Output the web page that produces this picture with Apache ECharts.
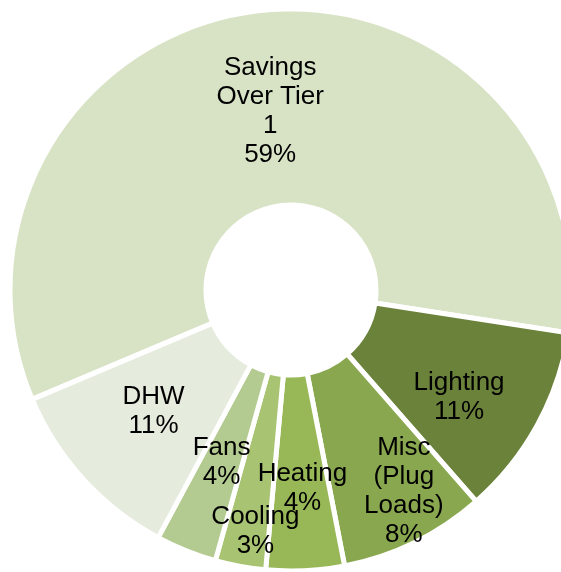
<!DOCTYPE html>
<html><head><meta charset="utf-8">
<script src="https://cdn.jsdelivr.net/npm/echarts@6/dist/echarts.min.js"></script>
<style>html,body{margin:0;padding:0;background:#fff}#c{width:561px;height:572px}</style>
</head><body><div id="c"></div>
<script>
const categories = ['Savings\nOver Tier\n1', 'Lighting', 'Misc\n(Plug\nLoads)', 'Heating', 'Cooling', 'Fans', 'DHW'];
const values = [58.8, 11.1, 8.4, 4.49, 2.9, 3.5, 10.8];
const colors = ['#D8E3C6', '#6B823B', '#89A74F', '#98B757', '#A8C472', '#B3CB91', '#E5EBDD'];
const labelShift = {0: [2, 6], 1: [5, 18], 2: [31, 34], 3: [2, 13], 4: [-2, 58], 6: [0, -4]};

const chart = echarts.init(document.getElementById('c'), null, {renderer: 'canvas'});
chart.setOption({
  animation: false,
  series: [{
    type: 'pie',
    center: [291, 290],
    radius: [85, 281],
    startAngle: 202.9,
    clockwise: true,
    avoidLabelOverlap: false,
    itemStyle: {borderColor: '#ffffff', borderWidth: 5},
    label: {
      show: true,
      position: 'inside',
      color: '#000',
      fontFamily: 'Liberation Sans, Arial, sans-serif',
      fontSize: 26,
      lineHeight: 29,
      align: 'center',
      formatter: p => p.name + '\n' + Math.round(p.value) + '%'
    },
    labelLine: {show: false},
    emphasis: {disabled: true},
    labelLayout: p => {
      const s = labelShift[p.dataIndex];
      return s ? {dx: s[0], dy: s[1]} : {};
    },
    data: categories.map((c, i) => ({name: c, value: values[i], itemStyle: {color: colors[i]}}))
  }]
});
</script></body></html>
